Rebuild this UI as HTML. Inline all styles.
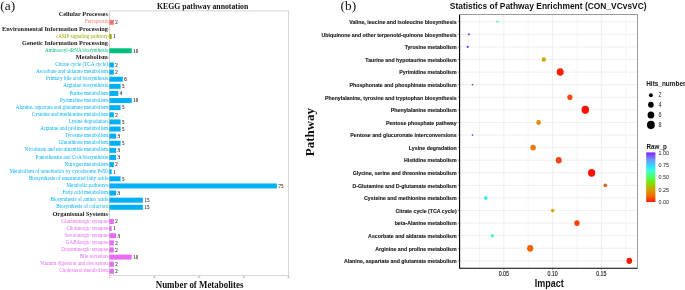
<!DOCTYPE html><html><head><meta charset="utf-8"><style>html,body{margin:0;padding:0;background:#fff;width:685px;height:290px;overflow:hidden}svg{display:block;will-change:transform}</style></head><body>
<svg width="685" height="290" viewBox="0 0 685 290">
<rect width="685" height="290" fill="#fff"/>
<text x="0.3" y="9.5" font-family='"Liberation Serif", serif' font-size="13.3" fill="#111">(a)</text>
<text x="202.6" y="8.7" text-anchor="middle" font-family='"Liberation Serif", serif' font-weight="bold" font-size="7.75" fill="#111">KEGG pathway annotation</text>
<rect x="109.5" y="10.9" width="179.10000000000002" height="264.70000000000005" fill="none" stroke="#d2d2d2" stroke-width="0.9"/>
<line x1="108.10" y1="15.20" x2="109.50" y2="15.20" stroke="#666" stroke-width="0.35"/>
<text transform="translate(107.9,16.40) scale(1,1.12)" text-anchor="end" font-family='"Liberation Serif", serif' font-weight="bold" font-size="6.35" fill="#1a1a1a">Cellular Processes</text>
<line x1="108.10" y1="22.31" x2="109.50" y2="22.31" stroke="#666" stroke-width="0.35"/>
<text transform="translate(107.9,23.41) scale(1,1.1)" text-anchor="end" font-family='"Liberation Serif", serif' font-size="5.13" fill="#F8766D">Ferroptosis</text>
<rect x="109.40" y="19.82" width="4.47" height="4.98" fill="#F8766D"/>
<text transform="translate(115.37,24.11) scale(1,1.2)" font-family='"Liberation Serif", serif' font-size="5.0" fill="#1a1a1a" stroke="#1a1a1a" stroke-width="0.08">2</text>
<line x1="108.10" y1="29.43" x2="109.50" y2="29.43" stroke="#666" stroke-width="0.35"/>
<text transform="translate(107.9,30.62) scale(1,1.12)" text-anchor="end" font-family='"Liberation Serif", serif' font-weight="bold" font-size="6.35" fill="#1a1a1a">Environmental Information Processing</text>
<line x1="108.10" y1="36.54" x2="109.50" y2="36.54" stroke="#666" stroke-width="0.35"/>
<text transform="translate(107.9,37.63) scale(1,1.1)" text-anchor="end" font-family='"Liberation Serif", serif' font-size="5.13" fill="#A3A500">cAMP signaling pathway</text>
<rect x="109.40" y="34.05" width="2.23" height="4.98" fill="#A3A500"/>
<text transform="translate(113.13,38.34) scale(1,1.2)" font-family='"Liberation Serif", serif' font-size="5.0" fill="#1a1a1a" stroke="#1a1a1a" stroke-width="0.08">1</text>
<line x1="108.10" y1="43.66" x2="109.50" y2="43.66" stroke="#666" stroke-width="0.35"/>
<text transform="translate(107.9,44.85) scale(1,1.12)" text-anchor="end" font-family='"Liberation Serif", serif' font-weight="bold" font-size="6.35" fill="#1a1a1a">Genetic Information Processing</text>
<line x1="108.10" y1="50.77" x2="109.50" y2="50.77" stroke="#666" stroke-width="0.35"/>
<text transform="translate(107.9,51.86) scale(1,1.1)" text-anchor="end" font-family='"Liberation Serif", serif' font-size="5.13" fill="#00BF7D">Aminoacyl-tRNA biosynthesis</text>
<rect x="109.40" y="48.28" width="22.33" height="4.98" fill="#00BF7D"/>
<text transform="translate(133.23,52.57) scale(1,1.2)" font-family='"Liberation Serif", serif' font-size="5.0" fill="#1a1a1a" stroke="#1a1a1a" stroke-width="0.08">10</text>
<line x1="108.10" y1="57.88" x2="109.50" y2="57.88" stroke="#666" stroke-width="0.35"/>
<text transform="translate(107.9,59.08) scale(1,1.12)" text-anchor="end" font-family='"Liberation Serif", serif' font-weight="bold" font-size="6.35" fill="#1a1a1a">Metabolism</text>
<line x1="108.10" y1="65.00" x2="109.50" y2="65.00" stroke="#666" stroke-width="0.35"/>
<text transform="translate(107.9,66.09) scale(1,1.1)" text-anchor="end" font-family='"Liberation Serif", serif' font-size="5.13" fill="#00B0F6">Citrate cycle (TCA cycle)</text>
<rect x="109.40" y="62.51" width="4.47" height="4.98" fill="#00B0F6"/>
<text transform="translate(115.37,66.80) scale(1,1.2)" font-family='"Liberation Serif", serif' font-size="5.0" fill="#1a1a1a" stroke="#1a1a1a" stroke-width="0.08">2</text>
<line x1="108.10" y1="72.11" x2="109.50" y2="72.11" stroke="#666" stroke-width="0.35"/>
<text transform="translate(107.9,73.20) scale(1,1.1)" text-anchor="end" font-family='"Liberation Serif", serif' font-size="5.13" fill="#00B0F6">Ascorbate and aldarate metabolism</text>
<rect x="109.40" y="69.62" width="4.47" height="4.98" fill="#00B0F6"/>
<text transform="translate(115.37,73.91) scale(1,1.2)" font-family='"Liberation Serif", serif' font-size="5.0" fill="#1a1a1a" stroke="#1a1a1a" stroke-width="0.08">2</text>
<line x1="108.10" y1="79.23" x2="109.50" y2="79.23" stroke="#666" stroke-width="0.35"/>
<text transform="translate(107.9,80.32) scale(1,1.1)" text-anchor="end" font-family='"Liberation Serif", serif' font-size="5.13" fill="#00B0F6">Primary bile acid biosynthesis</text>
<rect x="109.40" y="76.74" width="13.40" height="4.98" fill="#00B0F6"/>
<text transform="translate(124.30,81.03) scale(1,1.2)" font-family='"Liberation Serif", serif' font-size="5.0" fill="#1a1a1a" stroke="#1a1a1a" stroke-width="0.08">6</text>
<line x1="108.10" y1="86.34" x2="109.50" y2="86.34" stroke="#666" stroke-width="0.35"/>
<text transform="translate(107.9,87.43) scale(1,1.1)" text-anchor="end" font-family='"Liberation Serif", serif' font-size="5.13" fill="#00B0F6">Arginine biosynthesis</text>
<rect x="109.40" y="83.85" width="11.17" height="4.98" fill="#00B0F6"/>
<text transform="translate(122.07,88.14) scale(1,1.2)" font-family='"Liberation Serif", serif' font-size="5.0" fill="#1a1a1a" stroke="#1a1a1a" stroke-width="0.08">5</text>
<line x1="108.10" y1="93.45" x2="109.50" y2="93.45" stroke="#666" stroke-width="0.35"/>
<text transform="translate(107.9,94.55) scale(1,1.1)" text-anchor="end" font-family='"Liberation Serif", serif' font-size="5.13" fill="#00B0F6">Purine metabolism</text>
<rect x="109.40" y="90.96" width="8.93" height="4.98" fill="#00B0F6"/>
<text transform="translate(119.83,95.25) scale(1,1.2)" font-family='"Liberation Serif", serif' font-size="5.0" fill="#1a1a1a" stroke="#1a1a1a" stroke-width="0.08">4</text>
<line x1="108.10" y1="100.57" x2="109.50" y2="100.57" stroke="#666" stroke-width="0.35"/>
<text transform="translate(107.9,101.66) scale(1,1.1)" text-anchor="end" font-family='"Liberation Serif", serif' font-size="5.13" fill="#00B0F6">Pyrimidine metabolism</text>
<rect x="109.40" y="98.08" width="22.33" height="4.98" fill="#00B0F6"/>
<text transform="translate(133.23,102.37) scale(1,1.2)" font-family='"Liberation Serif", serif' font-size="5.0" fill="#1a1a1a" stroke="#1a1a1a" stroke-width="0.08">10</text>
<line x1="108.10" y1="107.68" x2="109.50" y2="107.68" stroke="#666" stroke-width="0.35"/>
<text transform="translate(107.9,108.77) scale(1,1.1)" text-anchor="end" font-family='"Liberation Serif", serif' font-size="5.13" fill="#00B0F6">Alanine, aspartate and glutamate metabolism</text>
<rect x="109.40" y="105.19" width="11.17" height="4.98" fill="#00B0F6"/>
<text transform="translate(122.07,109.48) scale(1,1.2)" font-family='"Liberation Serif", serif' font-size="5.0" fill="#1a1a1a" stroke="#1a1a1a" stroke-width="0.08">5</text>
<line x1="108.10" y1="114.80" x2="109.50" y2="114.80" stroke="#666" stroke-width="0.35"/>
<text transform="translate(107.9,115.89) scale(1,1.1)" text-anchor="end" font-family='"Liberation Serif", serif' font-size="5.13" fill="#00B0F6">Cysteine and methionine metabolism</text>
<rect x="109.40" y="112.31" width="4.47" height="4.98" fill="#00B0F6"/>
<text transform="translate(115.37,116.60) scale(1,1.2)" font-family='"Liberation Serif", serif' font-size="5.0" fill="#1a1a1a" stroke="#1a1a1a" stroke-width="0.08">2</text>
<line x1="108.10" y1="121.91" x2="109.50" y2="121.91" stroke="#666" stroke-width="0.35"/>
<text transform="translate(107.9,123.00) scale(1,1.1)" text-anchor="end" font-family='"Liberation Serif", serif' font-size="5.13" fill="#00B0F6">Lysine degradation</text>
<rect x="109.40" y="119.42" width="11.17" height="4.98" fill="#00B0F6"/>
<text transform="translate(122.07,123.71) scale(1,1.2)" font-family='"Liberation Serif", serif' font-size="5.0" fill="#1a1a1a" stroke="#1a1a1a" stroke-width="0.08">5</text>
<line x1="108.10" y1="129.02" x2="109.50" y2="129.02" stroke="#666" stroke-width="0.35"/>
<text transform="translate(107.9,130.12) scale(1,1.1)" text-anchor="end" font-family='"Liberation Serif", serif' font-size="5.13" fill="#00B0F6">Arginine and proline metabolism</text>
<rect x="109.40" y="126.53" width="11.17" height="4.98" fill="#00B0F6"/>
<text transform="translate(122.07,130.82) scale(1,1.2)" font-family='"Liberation Serif", serif' font-size="5.0" fill="#1a1a1a" stroke="#1a1a1a" stroke-width="0.08">5</text>
<line x1="108.10" y1="136.14" x2="109.50" y2="136.14" stroke="#666" stroke-width="0.35"/>
<text transform="translate(107.9,137.23) scale(1,1.1)" text-anchor="end" font-family='"Liberation Serif", serif' font-size="5.13" fill="#00B0F6">Tyrosine metabolism</text>
<rect x="109.40" y="133.65" width="6.70" height="4.98" fill="#00B0F6"/>
<text transform="translate(117.60,137.94) scale(1,1.2)" font-family='"Liberation Serif", serif' font-size="5.0" fill="#1a1a1a" stroke="#1a1a1a" stroke-width="0.08">3</text>
<line x1="108.10" y1="143.25" x2="109.50" y2="143.25" stroke="#666" stroke-width="0.35"/>
<text transform="translate(107.9,144.34) scale(1,1.1)" text-anchor="end" font-family='"Liberation Serif", serif' font-size="5.13" fill="#00B0F6">Glutathione metabolism</text>
<rect x="109.40" y="140.76" width="11.17" height="4.98" fill="#00B0F6"/>
<text transform="translate(122.07,145.05) scale(1,1.2)" font-family='"Liberation Serif", serif' font-size="5.0" fill="#1a1a1a" stroke="#1a1a1a" stroke-width="0.08">5</text>
<line x1="108.10" y1="150.37" x2="109.50" y2="150.37" stroke="#666" stroke-width="0.35"/>
<text transform="translate(107.9,151.46) scale(1,1.1)" text-anchor="end" font-family='"Liberation Serif", serif' font-size="5.13" fill="#00B0F6">Nicotinate and nicotinamide metabolism</text>
<rect x="109.40" y="147.88" width="6.70" height="4.98" fill="#00B0F6"/>
<text transform="translate(117.60,152.17) scale(1,1.2)" font-family='"Liberation Serif", serif' font-size="5.0" fill="#1a1a1a" stroke="#1a1a1a" stroke-width="0.08">3</text>
<line x1="108.10" y1="157.48" x2="109.50" y2="157.48" stroke="#666" stroke-width="0.35"/>
<text transform="translate(107.9,158.57) scale(1,1.1)" text-anchor="end" font-family='"Liberation Serif", serif' font-size="5.13" fill="#00B0F6">Pantothenate and CoA biosynthesis</text>
<rect x="109.40" y="154.99" width="6.70" height="4.98" fill="#00B0F6"/>
<text transform="translate(117.60,159.28) scale(1,1.2)" font-family='"Liberation Serif", serif' font-size="5.0" fill="#1a1a1a" stroke="#1a1a1a" stroke-width="0.08">3</text>
<line x1="108.10" y1="164.59" x2="109.50" y2="164.59" stroke="#666" stroke-width="0.35"/>
<text transform="translate(107.9,165.69) scale(1,1.1)" text-anchor="end" font-family='"Liberation Serif", serif' font-size="5.13" fill="#00B0F6">Nitrogen metabolism</text>
<rect x="109.40" y="162.10" width="4.47" height="4.98" fill="#00B0F6"/>
<text transform="translate(115.37,166.39) scale(1,1.2)" font-family='"Liberation Serif", serif' font-size="5.0" fill="#1a1a1a" stroke="#1a1a1a" stroke-width="0.08">2</text>
<line x1="108.10" y1="171.71" x2="109.50" y2="171.71" stroke="#666" stroke-width="0.35"/>
<text transform="translate(107.9,172.80) scale(1,1.1)" text-anchor="end" font-family='"Liberation Serif", serif' font-size="5.13" fill="#00B0F6">Metabolism of xenobiotics by cytochrome P450</text>
<rect x="109.40" y="169.22" width="2.23" height="4.98" fill="#00B0F6"/>
<text transform="translate(113.13,173.51) scale(1,1.2)" font-family='"Liberation Serif", serif' font-size="5.0" fill="#1a1a1a" stroke="#1a1a1a" stroke-width="0.08">1</text>
<line x1="108.10" y1="178.82" x2="109.50" y2="178.82" stroke="#666" stroke-width="0.35"/>
<text transform="translate(107.9,179.91) scale(1,1.1)" text-anchor="end" font-family='"Liberation Serif", serif' font-size="5.13" fill="#00B0F6">Biosynthesis of unsaturated fatty acids</text>
<rect x="109.40" y="176.33" width="11.17" height="4.98" fill="#00B0F6"/>
<text transform="translate(122.07,180.62) scale(1,1.2)" font-family='"Liberation Serif", serif' font-size="5.0" fill="#1a1a1a" stroke="#1a1a1a" stroke-width="0.08">5</text>
<line x1="108.10" y1="185.94" x2="109.50" y2="185.94" stroke="#666" stroke-width="0.35"/>
<text transform="translate(107.9,187.03) scale(1,1.1)" text-anchor="end" font-family='"Liberation Serif", serif' font-size="5.13" fill="#00B0F6">Metabolic pathways</text>
<rect x="109.40" y="183.45" width="167.47" height="4.98" fill="#00B0F6"/>
<text transform="translate(278.38,187.74) scale(1,1.2)" font-family='"Liberation Serif", serif' font-size="5.0" fill="#1a1a1a" stroke="#1a1a1a" stroke-width="0.08">75</text>
<line x1="108.10" y1="193.05" x2="109.50" y2="193.05" stroke="#666" stroke-width="0.35"/>
<text transform="translate(107.9,194.14) scale(1,1.1)" text-anchor="end" font-family='"Liberation Serif", serif' font-size="5.13" fill="#00B0F6">Fatty acid metabolism</text>
<rect x="109.40" y="190.56" width="6.70" height="4.98" fill="#00B0F6"/>
<text transform="translate(117.60,194.85) scale(1,1.2)" font-family='"Liberation Serif", serif' font-size="5.0" fill="#1a1a1a" stroke="#1a1a1a" stroke-width="0.08">3</text>
<line x1="108.10" y1="200.16" x2="109.50" y2="200.16" stroke="#666" stroke-width="0.35"/>
<text transform="translate(107.9,201.26) scale(1,1.1)" text-anchor="end" font-family='"Liberation Serif", serif' font-size="5.13" fill="#00B0F6">Biosynthesis of amino acids</text>
<rect x="109.40" y="197.67" width="33.50" height="4.98" fill="#00B0F6"/>
<text transform="translate(144.40,201.96) scale(1,1.2)" font-family='"Liberation Serif", serif' font-size="5.0" fill="#1a1a1a" stroke="#1a1a1a" stroke-width="0.08">15</text>
<line x1="108.10" y1="207.28" x2="109.50" y2="207.28" stroke="#666" stroke-width="0.35"/>
<text transform="translate(107.9,208.37) scale(1,1.1)" text-anchor="end" font-family='"Liberation Serif", serif' font-size="5.13" fill="#00B0F6">Biosynthesis of cofactors</text>
<rect x="109.40" y="204.79" width="33.50" height="4.98" fill="#00B0F6"/>
<text transform="translate(144.40,209.08) scale(1,1.2)" font-family='"Liberation Serif", serif' font-size="5.0" fill="#1a1a1a" stroke="#1a1a1a" stroke-width="0.08">15</text>
<line x1="108.10" y1="214.39" x2="109.50" y2="214.39" stroke="#666" stroke-width="0.35"/>
<text transform="translate(107.9,215.59) scale(1,1.12)" text-anchor="end" font-family='"Liberation Serif", serif' font-weight="bold" font-size="6.35" fill="#1a1a1a">Organismal Systems</text>
<line x1="108.10" y1="221.51" x2="109.50" y2="221.51" stroke="#666" stroke-width="0.35"/>
<text transform="translate(107.9,222.60) scale(1,1.1)" text-anchor="end" font-family='"Liberation Serif", serif' font-size="5.13" fill="#E76BF3">Glutamatergic synapse</text>
<rect x="109.40" y="219.02" width="4.47" height="4.98" fill="#E76BF3"/>
<text transform="translate(115.37,223.31) scale(1,1.2)" font-family='"Liberation Serif", serif' font-size="5.0" fill="#1a1a1a" stroke="#1a1a1a" stroke-width="0.08">2</text>
<line x1="108.10" y1="228.62" x2="109.50" y2="228.62" stroke="#666" stroke-width="0.35"/>
<text transform="translate(107.9,229.71) scale(1,1.1)" text-anchor="end" font-family='"Liberation Serif", serif' font-size="5.13" fill="#E76BF3">Cholinergic synapse</text>
<rect x="109.40" y="226.13" width="2.23" height="4.98" fill="#E76BF3"/>
<text transform="translate(113.13,230.42) scale(1,1.2)" font-family='"Liberation Serif", serif' font-size="5.0" fill="#1a1a1a" stroke="#1a1a1a" stroke-width="0.08">1</text>
<line x1="108.10" y1="235.73" x2="109.50" y2="235.73" stroke="#666" stroke-width="0.35"/>
<text transform="translate(107.9,236.83) scale(1,1.1)" text-anchor="end" font-family='"Liberation Serif", serif' font-size="5.13" fill="#E76BF3">Serotonergic synapse</text>
<rect x="109.40" y="233.24" width="6.70" height="4.98" fill="#E76BF3"/>
<text transform="translate(117.60,237.53) scale(1,1.2)" font-family='"Liberation Serif", serif' font-size="5.0" fill="#1a1a1a" stroke="#1a1a1a" stroke-width="0.08">3</text>
<line x1="108.10" y1="242.85" x2="109.50" y2="242.85" stroke="#666" stroke-width="0.35"/>
<text transform="translate(107.9,243.94) scale(1,1.1)" text-anchor="end" font-family='"Liberation Serif", serif' font-size="5.13" fill="#E76BF3">GABAergic synapse</text>
<rect x="109.40" y="240.36" width="4.47" height="4.98" fill="#E76BF3"/>
<text transform="translate(115.37,244.65) scale(1,1.2)" font-family='"Liberation Serif", serif' font-size="5.0" fill="#1a1a1a" stroke="#1a1a1a" stroke-width="0.08">2</text>
<line x1="108.10" y1="249.96" x2="109.50" y2="249.96" stroke="#666" stroke-width="0.35"/>
<text transform="translate(107.9,251.05) scale(1,1.1)" text-anchor="end" font-family='"Liberation Serif", serif' font-size="5.13" fill="#E76BF3">Dopaminergic synapse</text>
<rect x="109.40" y="247.47" width="4.47" height="4.98" fill="#E76BF3"/>
<text transform="translate(115.37,251.76) scale(1,1.2)" font-family='"Liberation Serif", serif' font-size="5.0" fill="#1a1a1a" stroke="#1a1a1a" stroke-width="0.08">2</text>
<line x1="108.10" y1="257.08" x2="109.50" y2="257.08" stroke="#666" stroke-width="0.35"/>
<text transform="translate(107.9,258.17) scale(1,1.1)" text-anchor="end" font-family='"Liberation Serif", serif' font-size="5.13" fill="#E76BF3">Bile secretion</text>
<rect x="109.40" y="254.59" width="22.33" height="4.98" fill="#E76BF3"/>
<text transform="translate(133.23,258.88) scale(1,1.2)" font-family='"Liberation Serif", serif' font-size="5.0" fill="#1a1a1a" stroke="#1a1a1a" stroke-width="0.08">10</text>
<line x1="108.10" y1="264.19" x2="109.50" y2="264.19" stroke="#666" stroke-width="0.35"/>
<text transform="translate(107.9,265.28) scale(1,1.1)" text-anchor="end" font-family='"Liberation Serif", serif' font-size="5.13" fill="#E76BF3">Vitamin digestion and absorption</text>
<rect x="109.40" y="261.70" width="4.47" height="4.98" fill="#E76BF3"/>
<text transform="translate(115.37,265.99) scale(1,1.2)" font-family='"Liberation Serif", serif' font-size="5.0" fill="#1a1a1a" stroke="#1a1a1a" stroke-width="0.08">2</text>
<line x1="108.10" y1="271.30" x2="109.50" y2="271.30" stroke="#666" stroke-width="0.35"/>
<text transform="translate(107.9,272.40) scale(1,1.1)" text-anchor="end" font-family='"Liberation Serif", serif' font-size="5.13" fill="#E76BF3">Cholesterol metabolism</text>
<rect x="109.40" y="268.81" width="4.47" height="4.98" fill="#E76BF3"/>
<text transform="translate(115.37,273.10) scale(1,1.2)" font-family='"Liberation Serif", serif' font-size="5.0" fill="#1a1a1a" stroke="#1a1a1a" stroke-width="0.08">2</text>
<line x1="109.90" y1="275.6" x2="109.90" y2="277.20000000000005" stroke="#777" stroke-width="0.4"/>
<text x="109.90" y="278.40000000000003" text-anchor="middle" font-family='"Liberation Serif", serif' font-size="2.4" fill="#666">0</text>
<line x1="154.56" y1="275.6" x2="154.56" y2="277.20000000000005" stroke="#777" stroke-width="0.4"/>
<text x="154.56" y="278.40000000000003" text-anchor="middle" font-family='"Liberation Serif", serif' font-size="2.4" fill="#666">20</text>
<line x1="199.22" y1="275.6" x2="199.22" y2="277.20000000000005" stroke="#777" stroke-width="0.4"/>
<text x="199.22" y="278.40000000000003" text-anchor="middle" font-family='"Liberation Serif", serif' font-size="2.4" fill="#666">40</text>
<line x1="243.88" y1="275.6" x2="243.88" y2="277.20000000000005" stroke="#777" stroke-width="0.4"/>
<text x="243.88" y="278.40000000000003" text-anchor="middle" font-family='"Liberation Serif", serif' font-size="2.4" fill="#666">60</text>
<line x1="288.54" y1="275.6" x2="288.54" y2="277.20000000000005" stroke="#777" stroke-width="0.4"/>
<text x="288.54" y="278.40000000000003" text-anchor="middle" font-family='"Liberation Serif", serif' font-size="2.4" fill="#666">80</text>
<text transform="translate(199.6,287.8) scale(1,1.08)" text-anchor="middle" font-family='"Liberation Serif", serif' font-weight="bold" font-size="8.9" fill="#111">Number of Metabolites</text>
<text x="340.6" y="9.5" font-family='"Liberation Serif", serif' font-size="13.3" fill="#111">(b)</text>
<text transform="translate(548.2,8.85) scale(1,1.09)" text-anchor="middle" font-family='"Liberation Sans", sans-serif' font-weight="bold" font-size="8.42" fill="#111">Statistics of Pathway Enrichment (CON_VCvsVC)</text>
<line x1="479.48" y1="14.5" x2="479.48" y2="268.2" stroke="#ebebeb" stroke-width="0.5"/>
<line x1="503.85" y1="14.5" x2="503.85" y2="268.2" stroke="#ebebeb" stroke-width="0.8"/>
<line x1="528.23" y1="14.5" x2="528.23" y2="268.2" stroke="#ebebeb" stroke-width="0.5"/>
<line x1="552.60" y1="14.5" x2="552.60" y2="268.2" stroke="#ebebeb" stroke-width="0.8"/>
<line x1="576.98" y1="14.5" x2="576.98" y2="268.2" stroke="#ebebeb" stroke-width="0.5"/>
<line x1="601.35" y1="14.5" x2="601.35" y2="268.2" stroke="#ebebeb" stroke-width="0.8"/>
<line x1="625.73" y1="14.5" x2="625.73" y2="268.2" stroke="#ebebeb" stroke-width="0.5"/>
<line x1="459.6" y1="21.75" x2="637.5" y2="21.75" stroke="#ebebeb" stroke-width="0.8"/>
<line x1="459.6" y1="34.34" x2="637.5" y2="34.34" stroke="#ebebeb" stroke-width="0.8"/>
<line x1="459.6" y1="46.92" x2="637.5" y2="46.92" stroke="#ebebeb" stroke-width="0.8"/>
<line x1="459.6" y1="59.51" x2="637.5" y2="59.51" stroke="#ebebeb" stroke-width="0.8"/>
<line x1="459.6" y1="72.09" x2="637.5" y2="72.09" stroke="#ebebeb" stroke-width="0.8"/>
<line x1="459.6" y1="84.68" x2="637.5" y2="84.68" stroke="#ebebeb" stroke-width="0.8"/>
<line x1="459.6" y1="97.26" x2="637.5" y2="97.26" stroke="#ebebeb" stroke-width="0.8"/>
<line x1="459.6" y1="109.84" x2="637.5" y2="109.84" stroke="#ebebeb" stroke-width="0.8"/>
<line x1="459.6" y1="122.43" x2="637.5" y2="122.43" stroke="#ebebeb" stroke-width="0.8"/>
<line x1="459.6" y1="135.02" x2="637.5" y2="135.02" stroke="#ebebeb" stroke-width="0.8"/>
<line x1="459.6" y1="147.60" x2="637.5" y2="147.60" stroke="#ebebeb" stroke-width="0.8"/>
<line x1="459.6" y1="160.19" x2="637.5" y2="160.19" stroke="#ebebeb" stroke-width="0.8"/>
<line x1="459.6" y1="172.77" x2="637.5" y2="172.77" stroke="#ebebeb" stroke-width="0.8"/>
<line x1="459.6" y1="185.36" x2="637.5" y2="185.36" stroke="#ebebeb" stroke-width="0.8"/>
<line x1="459.6" y1="197.94" x2="637.5" y2="197.94" stroke="#ebebeb" stroke-width="0.8"/>
<line x1="459.6" y1="210.53" x2="637.5" y2="210.53" stroke="#ebebeb" stroke-width="0.8"/>
<line x1="459.6" y1="223.11" x2="637.5" y2="223.11" stroke="#ebebeb" stroke-width="0.8"/>
<line x1="459.6" y1="235.70" x2="637.5" y2="235.70" stroke="#ebebeb" stroke-width="0.8"/>
<line x1="459.6" y1="248.28" x2="637.5" y2="248.28" stroke="#ebebeb" stroke-width="0.8"/>
<line x1="459.6" y1="260.87" x2="637.5" y2="260.87" stroke="#ebebeb" stroke-width="0.8"/>
<polyline points="459.6,14.5 637.5,14.5 637.5,268.2" fill="none" stroke="#9a9a9a" stroke-width="1.0"/>
<polyline points="459.6,14.5 459.6,268.2 637.5,268.2" fill="none" stroke="#000" stroke-width="1.1"/>
<line x1="457.80" y1="21.75" x2="459.60" y2="21.75" stroke="#333" stroke-width="0.5"/>
<text transform="translate(456.7,24.04) scale(1,1.13)" text-anchor="end" font-family='"Liberation Sans", sans-serif' font-weight="bold" font-size="5.25" fill="#1a1a1a" stroke="#1a1a1a" stroke-width="0.12">Valine, leucine and isoleucine biosynthesis</text>
<ellipse cx="497.4" cy="21.75" rx="0.95" ry="1.03" fill="#33F0A8"/>
<line x1="457.80" y1="34.34" x2="459.60" y2="34.34" stroke="#333" stroke-width="0.5"/>
<text transform="translate(456.7,36.62) scale(1,1.13)" text-anchor="end" font-family='"Liberation Sans", sans-serif' font-weight="bold" font-size="5.25" fill="#1a1a1a" stroke="#1a1a1a" stroke-width="0.12">Ubiquinone and other terpenoid-quinone biosynthesis</text>
<ellipse cx="468.9" cy="34.34" rx="1.05" ry="1.13" fill="#7436F4"/>
<line x1="457.80" y1="46.92" x2="459.60" y2="46.92" stroke="#333" stroke-width="0.5"/>
<text transform="translate(456.7,49.21) scale(1,1.13)" text-anchor="end" font-family='"Liberation Sans", sans-serif' font-weight="bold" font-size="5.25" fill="#1a1a1a" stroke="#1a1a1a" stroke-width="0.12">Tyrosine metabolism</text>
<ellipse cx="467.7" cy="46.92" rx="1.05" ry="1.13" fill="#7436F4"/>
<line x1="457.80" y1="59.51" x2="459.60" y2="59.51" stroke="#333" stroke-width="0.5"/>
<text transform="translate(456.7,61.80) scale(1,1.13)" text-anchor="end" font-family='"Liberation Sans", sans-serif' font-weight="bold" font-size="5.25" fill="#1a1a1a" stroke="#1a1a1a" stroke-width="0.12">Taurine and hypotaurine metabolism</text>
<ellipse cx="543.8" cy="59.51" rx="2.15" ry="2.32" fill="#D8A400"/>
<line x1="457.80" y1="72.09" x2="459.60" y2="72.09" stroke="#333" stroke-width="0.5"/>
<text transform="translate(456.7,74.38) scale(1,1.13)" text-anchor="end" font-family='"Liberation Sans", sans-serif' font-weight="bold" font-size="5.25" fill="#1a1a1a" stroke="#1a1a1a" stroke-width="0.12">Pyrimidine metabolism</text>
<ellipse cx="560.2" cy="72.09" rx="3.50" ry="3.78" fill="#FF1E00"/>
<line x1="457.80" y1="84.68" x2="459.60" y2="84.68" stroke="#333" stroke-width="0.5"/>
<text transform="translate(456.7,86.97) scale(1,1.13)" text-anchor="end" font-family='"Liberation Sans", sans-serif' font-weight="bold" font-size="5.25" fill="#1a1a1a" stroke="#1a1a1a" stroke-width="0.12">Phosphonate and phosphinate metabolism</text>
<ellipse cx="472.5" cy="84.68" rx="0.80" ry="0.86" fill="#5050FF"/>
<line x1="457.80" y1="97.26" x2="459.60" y2="97.26" stroke="#333" stroke-width="0.5"/>
<text transform="translate(456.7,99.55) scale(1,1.13)" text-anchor="end" font-family='"Liberation Sans", sans-serif' font-weight="bold" font-size="5.25" fill="#1a1a1a" stroke="#1a1a1a" stroke-width="0.12">Phenylalanine, tyrosine and tryptophan biosynthesis</text>
<ellipse cx="569.9" cy="97.26" rx="2.60" ry="2.81" fill="#F44A10"/>
<line x1="457.80" y1="109.84" x2="459.60" y2="109.84" stroke="#333" stroke-width="0.5"/>
<text transform="translate(456.7,112.14) scale(1,1.13)" text-anchor="end" font-family='"Liberation Sans", sans-serif' font-weight="bold" font-size="5.25" fill="#1a1a1a" stroke="#1a1a1a" stroke-width="0.12">Phenylalanine metabolism</text>
<ellipse cx="585.3" cy="109.84" rx="3.75" ry="4.05" fill="#FF1000"/>
<line x1="457.80" y1="122.43" x2="459.60" y2="122.43" stroke="#333" stroke-width="0.5"/>
<text transform="translate(456.7,124.72) scale(1,1.13)" text-anchor="end" font-family='"Liberation Sans", sans-serif' font-weight="bold" font-size="5.25" fill="#1a1a1a" stroke="#1a1a1a" stroke-width="0.12">Pentose phosphate pathway</text>
<ellipse cx="538.6" cy="122.43" rx="2.30" ry="2.48" fill="#E48A00"/>
<line x1="457.80" y1="135.02" x2="459.60" y2="135.02" stroke="#333" stroke-width="0.5"/>
<text transform="translate(456.7,137.31) scale(1,1.13)" text-anchor="end" font-family='"Liberation Sans", sans-serif' font-weight="bold" font-size="5.25" fill="#1a1a1a" stroke="#1a1a1a" stroke-width="0.12">Pentose and glucuronate interconversions</text>
<ellipse cx="472.5" cy="135.02" rx="0.80" ry="0.86" fill="#5050FF"/>
<line x1="457.80" y1="147.60" x2="459.60" y2="147.60" stroke="#333" stroke-width="0.5"/>
<text transform="translate(456.7,149.89) scale(1,1.13)" text-anchor="end" font-family='"Liberation Sans", sans-serif' font-weight="bold" font-size="5.25" fill="#1a1a1a" stroke="#1a1a1a" stroke-width="0.12">Lysine degradation</text>
<ellipse cx="533.1" cy="147.60" rx="2.75" ry="2.97" fill="#EA7A10"/>
<line x1="457.80" y1="160.19" x2="459.60" y2="160.19" stroke="#333" stroke-width="0.5"/>
<text transform="translate(456.7,162.47) scale(1,1.13)" text-anchor="end" font-family='"Liberation Sans", sans-serif' font-weight="bold" font-size="5.25" fill="#1a1a1a" stroke="#1a1a1a" stroke-width="0.12">Histidine metabolism</text>
<ellipse cx="558.7" cy="160.19" rx="2.95" ry="3.19" fill="#F24418"/>
<line x1="457.80" y1="172.77" x2="459.60" y2="172.77" stroke="#333" stroke-width="0.5"/>
<text transform="translate(456.7,175.06) scale(1,1.13)" text-anchor="end" font-family='"Liberation Sans", sans-serif' font-weight="bold" font-size="5.25" fill="#1a1a1a" stroke="#1a1a1a" stroke-width="0.12">Glycine, serine and threonine metabolism</text>
<ellipse cx="591.6" cy="172.77" rx="3.60" ry="3.89" fill="#FF1000"/>
<line x1="457.80" y1="185.36" x2="459.60" y2="185.36" stroke="#333" stroke-width="0.5"/>
<text transform="translate(456.7,187.65) scale(1,1.13)" text-anchor="end" font-family='"Liberation Sans", sans-serif' font-weight="bold" font-size="5.25" fill="#1a1a1a" stroke="#1a1a1a" stroke-width="0.12">D-Glutamine and D-glutamate metabolism</text>
<ellipse cx="605.3" cy="185.36" rx="1.80" ry="1.94" fill="#EC6410"/>
<line x1="457.80" y1="197.94" x2="459.60" y2="197.94" stroke="#333" stroke-width="0.5"/>
<text transform="translate(456.7,200.23) scale(1,1.13)" text-anchor="end" font-family='"Liberation Sans", sans-serif' font-weight="bold" font-size="5.25" fill="#1a1a1a" stroke="#1a1a1a" stroke-width="0.12">Cysteine and methionine metabolism</text>
<ellipse cx="485.8" cy="197.94" rx="1.65" ry="1.78" fill="#10EAF8"/>
<line x1="457.80" y1="210.53" x2="459.60" y2="210.53" stroke="#333" stroke-width="0.5"/>
<text transform="translate(456.7,212.81) scale(1,1.13)" text-anchor="end" font-family='"Liberation Sans", sans-serif' font-weight="bold" font-size="5.25" fill="#1a1a1a" stroke="#1a1a1a" stroke-width="0.12">Citrate cycle (TCA cycle)</text>
<ellipse cx="552.7" cy="210.53" rx="1.70" ry="1.84" fill="#D8A200"/>
<line x1="457.80" y1="223.11" x2="459.60" y2="223.11" stroke="#333" stroke-width="0.5"/>
<text transform="translate(456.7,225.40) scale(1,1.13)" text-anchor="end" font-family='"Liberation Sans", sans-serif' font-weight="bold" font-size="5.25" fill="#1a1a1a" stroke="#1a1a1a" stroke-width="0.12">beta-Alanine metabolism</text>
<ellipse cx="577.0" cy="223.11" rx="2.65" ry="2.86" fill="#FF3C08"/>
<line x1="457.80" y1="235.70" x2="459.60" y2="235.70" stroke="#333" stroke-width="0.5"/>
<text transform="translate(456.7,237.99) scale(1,1.13)" text-anchor="end" font-family='"Liberation Sans", sans-serif' font-weight="bold" font-size="5.25" fill="#1a1a1a" stroke="#1a1a1a" stroke-width="0.12">Ascorbate and aldarate metabolism</text>
<ellipse cx="492.4" cy="235.70" rx="1.65" ry="1.78" fill="#55F2B4"/>
<line x1="457.80" y1="248.28" x2="459.60" y2="248.28" stroke="#333" stroke-width="0.5"/>
<text transform="translate(456.7,250.57) scale(1,1.13)" text-anchor="end" font-family='"Liberation Sans", sans-serif' font-weight="bold" font-size="5.25" fill="#1a1a1a" stroke="#1a1a1a" stroke-width="0.12">Arginine and proline metabolism</text>
<ellipse cx="530.2" cy="248.28" rx="3.10" ry="3.35" fill="#F26400"/>
<line x1="457.80" y1="260.87" x2="459.60" y2="260.87" stroke="#333" stroke-width="0.5"/>
<text transform="translate(456.7,263.15) scale(1,1.13)" text-anchor="end" font-family='"Liberation Sans", sans-serif' font-weight="bold" font-size="5.25" fill="#1a1a1a" stroke="#1a1a1a" stroke-width="0.12">Alanine, aspartate and glutamate metabolism</text>
<ellipse cx="629.3" cy="260.87" rx="2.90" ry="3.13" fill="#FF1800"/>
<line x1="503.85" y1="268.2" x2="503.85" y2="270.0" stroke="#333" stroke-width="0.5"/>
<text transform="translate(503.85,275.8) scale(1,1.25)" text-anchor="middle" font-family='"Liberation Sans", sans-serif' font-size="5.3" fill="#111" stroke="#111" stroke-width="0.1">0.05</text>
<line x1="552.60" y1="268.2" x2="552.60" y2="270.0" stroke="#333" stroke-width="0.5"/>
<text transform="translate(552.60,275.8) scale(1,1.25)" text-anchor="middle" font-family='"Liberation Sans", sans-serif' font-size="5.3" fill="#111" stroke="#111" stroke-width="0.1">0.10</text>
<line x1="601.35" y1="268.2" x2="601.35" y2="270.0" stroke="#333" stroke-width="0.5"/>
<text transform="translate(601.35,275.8) scale(1,1.25)" text-anchor="middle" font-family='"Liberation Sans", sans-serif' font-size="5.3" fill="#111" stroke="#111" stroke-width="0.1">0.15</text>
<text transform="translate(549.3,287.0) scale(1,1.14)" text-anchor="middle" font-family='"Liberation Sans", sans-serif' font-weight="bold" font-size="9.0" fill="#111">Impact</text>
<text transform="translate(313.6,132.1) rotate(-90)" text-anchor="middle" font-family='"Liberation Serif", serif' font-weight="bold" font-size="13" fill="#111">Pathway</text>
<text transform="translate(646.2,85.7) scale(1,1.1)" font-family='"Liberation Sans", sans-serif' font-weight="bold" font-size="6.45" fill="#111">Hits_number</text>
<ellipse cx="650.9" cy="95.2" rx="1.95" ry="2.07" fill="#000"/>
<text transform="translate(658.5,97.10) scale(1,1.15)" font-family='"Liberation Sans", sans-serif' font-size="5.5" fill="#222">2</text>
<ellipse cx="650.9" cy="104.7" rx="2.80" ry="2.97" fill="#000"/>
<text transform="translate(658.5,106.60) scale(1,1.15)" font-family='"Liberation Sans", sans-serif' font-size="5.5" fill="#222">4</text>
<ellipse cx="650.9" cy="115.0" rx="3.35" ry="3.55" fill="#000"/>
<text transform="translate(658.5,116.90) scale(1,1.15)" font-family='"Liberation Sans", sans-serif' font-size="5.5" fill="#222">6</text>
<ellipse cx="650.9" cy="125.0" rx="3.90" ry="4.13" fill="#000"/>
<text transform="translate(658.5,126.90) scale(1,1.15)" font-family='"Liberation Sans", sans-serif' font-size="5.5" fill="#222">8</text>
<text transform="translate(646.5,148.7) scale(1,1.2)" font-family='"Liberation Sans", sans-serif' font-weight="bold" font-size="6.3" fill="#111">Raw_p</text>
<defs><linearGradient id="rp" x1="0" y1="1" x2="0" y2="0"><stop offset="0" stop-color="#FF1A00"/><stop offset="0.12" stop-color="#F06A00"/><stop offset="0.25" stop-color="#D0A000"/><stop offset="0.38" stop-color="#80E000"/><stop offset="0.50" stop-color="#50FF60"/><stop offset="0.62" stop-color="#40FFD0"/><stop offset="0.72" stop-color="#30E0FF"/><stop offset="0.86" stop-color="#7090FF"/><stop offset="1" stop-color="#8020FF"/></linearGradient></defs>
<rect x="646.2" y="152.4" width="9.2" height="49.6" fill="url(#rp)"/>
<text x="658.6" y="154.80" font-family='"Liberation Sans", sans-serif' font-size="5.4" fill="#222">1.00</text>
<text x="658.6" y="167.10" font-family='"Liberation Sans", sans-serif' font-size="5.4" fill="#222">0.75</text>
<text x="658.6" y="179.40" font-family='"Liberation Sans", sans-serif' font-size="5.4" fill="#222">0.50</text>
<text x="658.6" y="191.70" font-family='"Liberation Sans", sans-serif' font-size="5.4" fill="#222">0.25</text>
<text x="658.6" y="204.00" font-family='"Liberation Sans", sans-serif' font-size="5.4" fill="#222">0.00</text>
</svg></body></html>
